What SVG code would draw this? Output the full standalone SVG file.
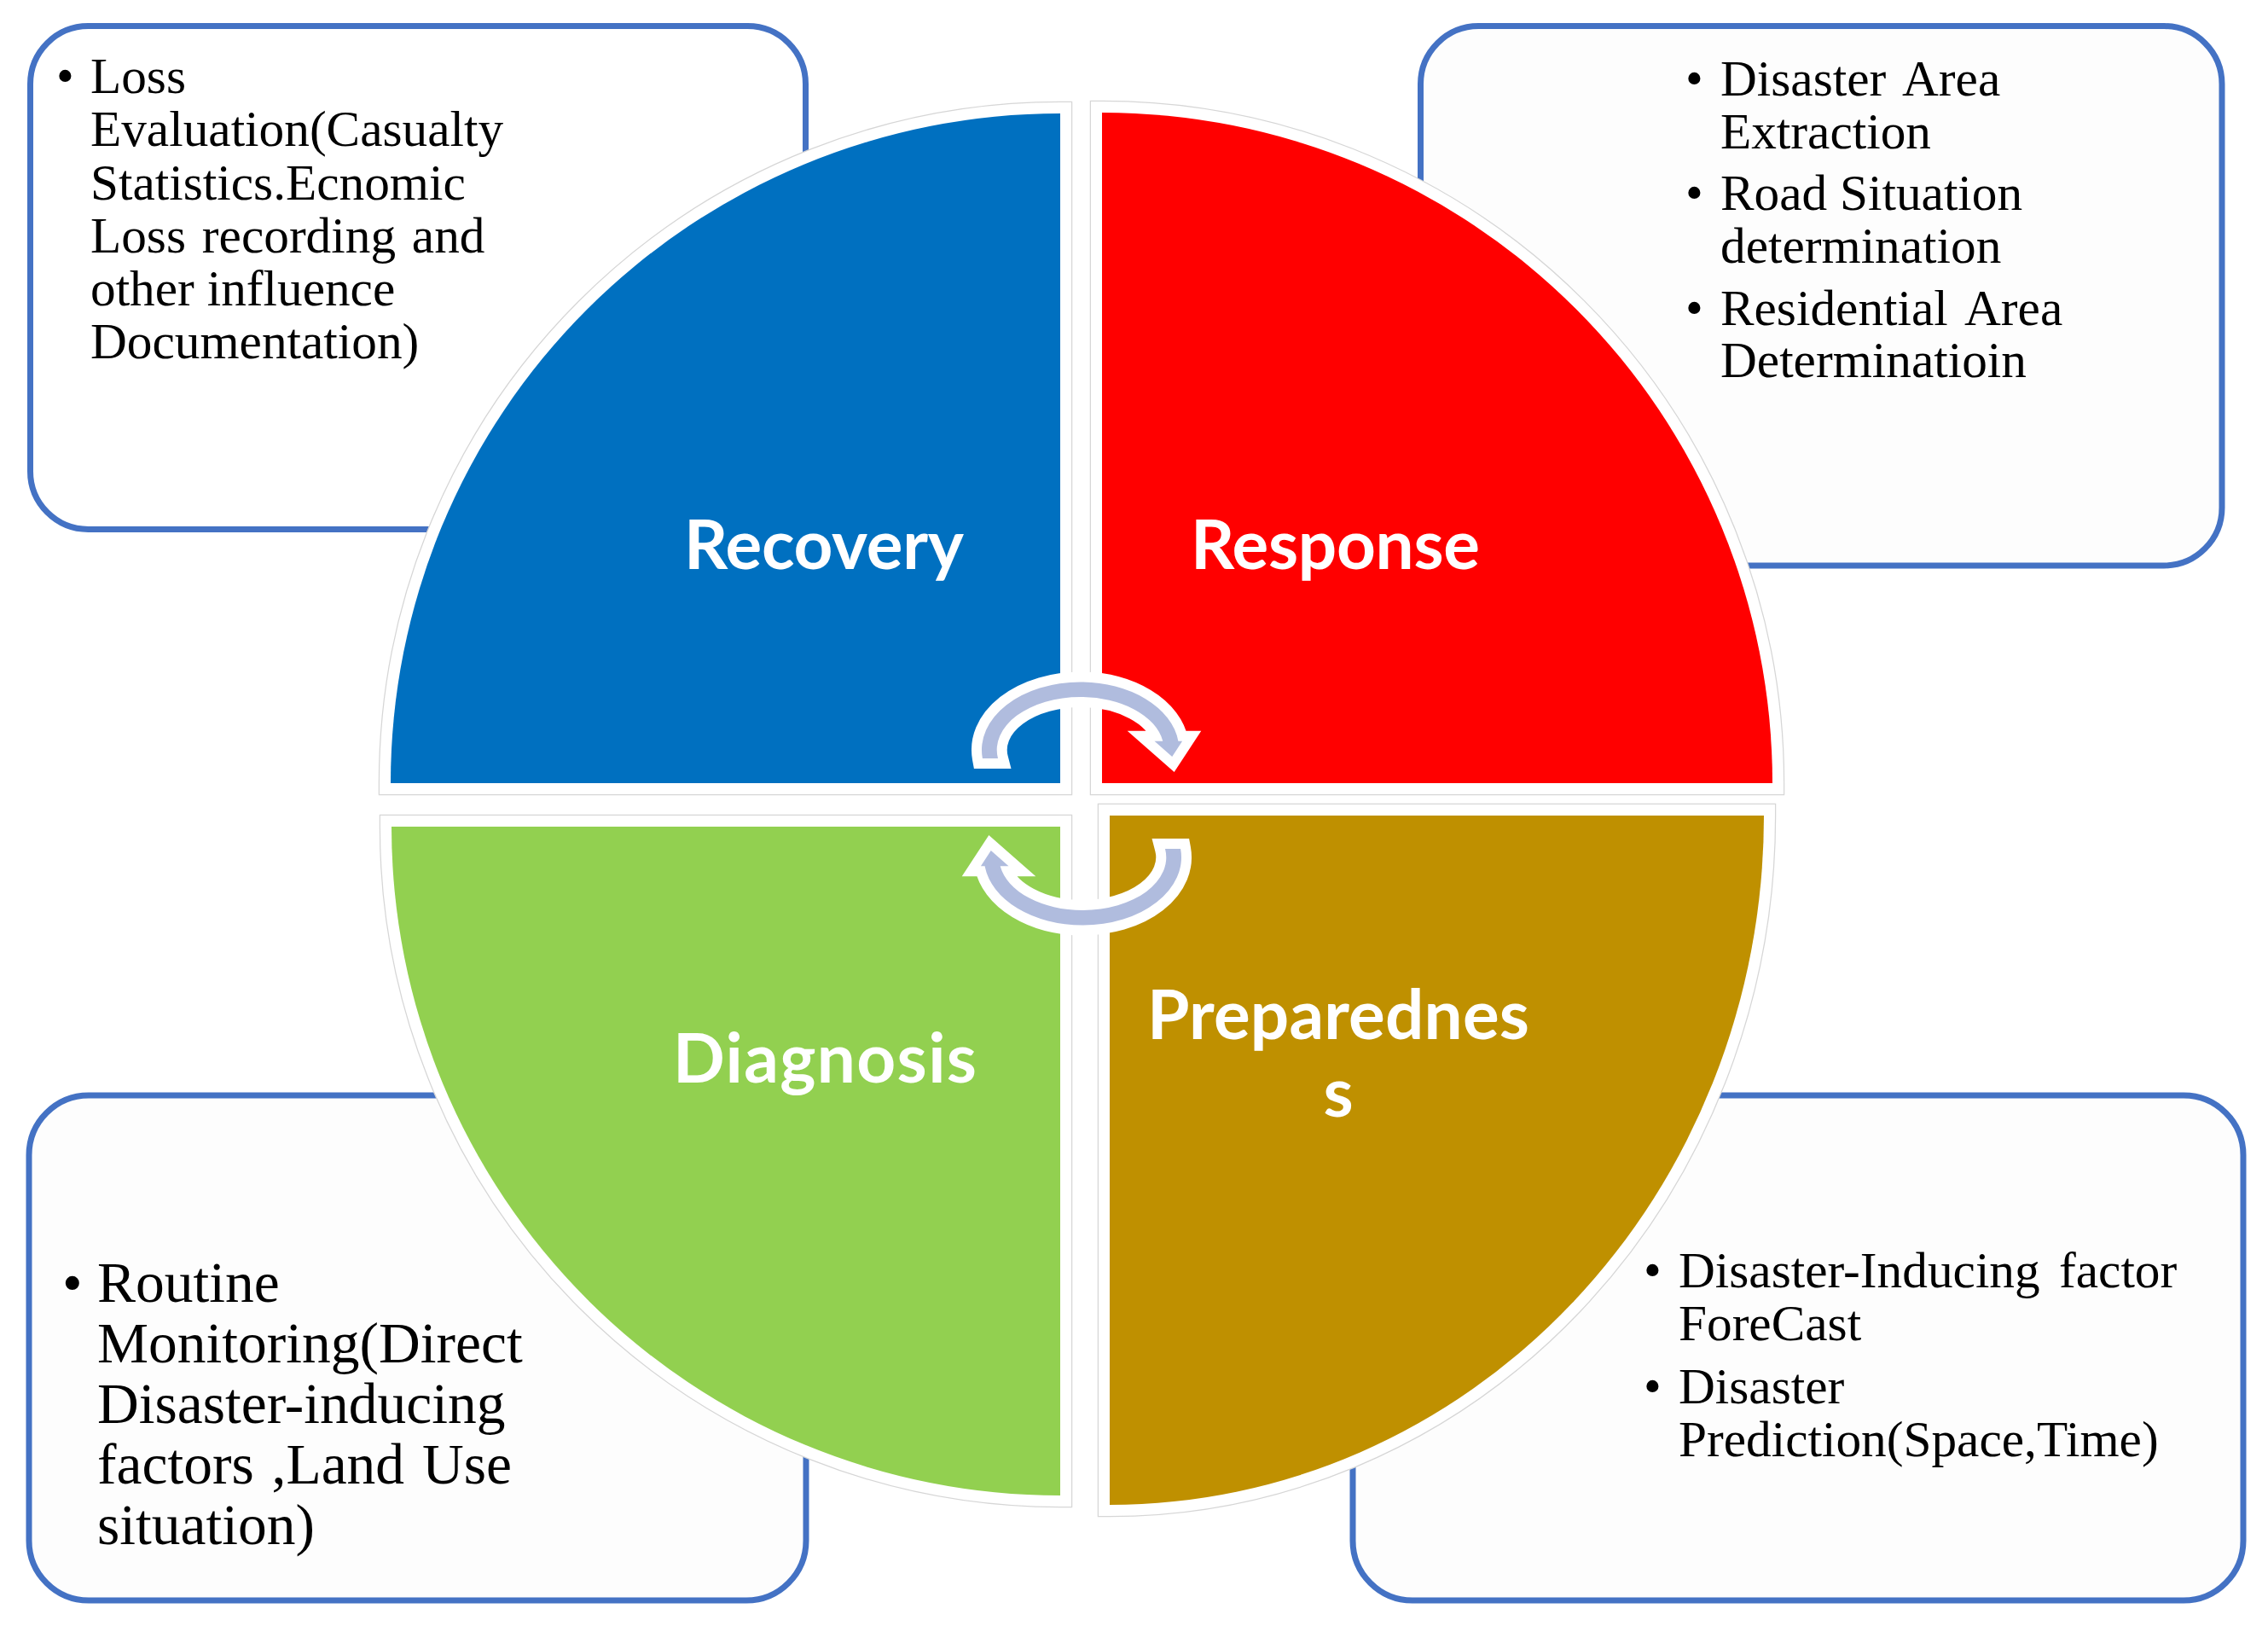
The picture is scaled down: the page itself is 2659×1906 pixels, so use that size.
<svg xmlns="http://www.w3.org/2000/svg" xmlns:xlink="http://www.w3.org/1999/xlink" width="2659" height="1906" viewBox="0 0 2659 1906">
<style>
.box{fill:#FDFDFD;stroke:#4472C4;stroke-width:7}
.qo{fill:#fff;stroke:#D6D6D6;stroke-width:28.5;stroke-linejoin:miter}
.q{stroke:#fff;stroke-width:26;stroke-linejoin:miter;paint-order:stroke}
.lbl{font-family:Lato,"Open Sans",sans-serif;font-weight:700;font-size:80px;fill:#fff;text-anchor:middle}
.txt{font-family:"Liberation Serif","Times New Roman",serif;font-size:59.3px;fill:#000}
.big{font-size:67.5px}
.arrow{fill:#B0BCDE;stroke:#fff;stroke-width:24;stroke-linejoin:miter;stroke-miterlimit:10;paint-order:stroke}
</style>
<defs>
<path id="arrowShape" class="arrow" d="M 1151.9 889 A 115.7 79.5 0 0 1 1266.7 799.5 A 115.7 79.5 0 0 1 1381.4 868.7 L 1386.1 868.7 L 1374.2 886.9 L 1353.5 868.7 L 1363.3 868.7 A 98 62 0 0 0 1266.7 817 A 98 62 0 0 0 1170 889 Z"/>
</defs>
<rect width="2659" height="1906" fill="#fff"/>

<g id="box-recovery">
<rect class="box" x="35.5" y="30.5" width="909" height="590" rx="68" style="fill:#fff"/>
<text class="txt"><tspan x="66" y="109">•</tspan><tspan x="106" y="109">Loss</tspan><tspan x="106" y="171">Evaluation(Casualty</tspan><tspan x="106" y="234">Statistics.Ecnomic</tspan><tspan x="106" y="296" word-spacing="4">Loss recording and</tspan><tspan x="106" y="358">other influence</tspan><tspan x="106" y="420">Documentation)</tspan></text>
</g>
<g id="box-response">
<rect class="box" x="1665.5" y="30.5" width="939.5" height="632.5" rx="68"/>
<text class="txt"><tspan x="1976" y="112">•</tspan><tspan x="2017" y="112">Disaster</tspan><tspan x="2230" y="112">Area</tspan><tspan x="2017" y="173.5">Extraction</tspan><tspan x="1976" y="246">•</tspan><tspan x="2017" y="246">Road Situation</tspan><tspan x="2017" y="308">determination</tspan><tspan x="1976" y="381">•</tspan><tspan x="2017" y="381">Residential</tspan><tspan x="2303" y="381">Area</tspan><tspan x="2017" y="442">Determinatioin</tspan></text>
</g>
<g id="box-diagnosis">
<rect class="box" x="34" y="1284" width="911" height="592" rx="70"/>
<text class="txt big"><tspan x="73" y="1526">•</tspan><tspan x="114" y="1526">Routine</tspan><tspan x="114" y="1597">Monitoring(Direct</tspan><tspan x="114" y="1668">Disaster-inducing</tspan><tspan x="114" y="1739" word-spacing="4">factors ,Land Use</tspan><tspan x="114" y="1810">situation)</tspan></text>
</g>
<g id="box-preparedness">
<rect class="box" x="1586" y="1284" width="1044" height="592" rx="70"/>
<text class="txt"><tspan x="1927" y="1509">•</tspan><tspan x="1968" y="1509">Disaster-Inducing</tspan><tspan x="2414" y="1509">factor</tspan><tspan x="1968" y="1571">ForeCast</tspan><tspan x="1927" y="1645">•</tspan><tspan x="1968" y="1645">Disaster</tspan><tspan x="1968" y="1707">Prediction(Space,Time)</tspan></text>
</g>

<g id="node-recovery">
<path class="qo" d="M 1243 918 L 458 918 A 785 785 0 0 1 1243 133 Z"/>
<path class="q" fill="#0070C0" d="M 1243 918 L 458 918 A 785 785 0 0 1 1243 133 Z"/>
<text class="lbl" x="966" y="667" textLength="328" lengthAdjust="spacing">Recovery</text>
</g>
<g id="node-response">
<path class="qo" d="M 1292 918 L 1292 132 A 786 786 0 0 1 2078 918 Z"/>
<path class="q" fill="#FF0000" d="M 1292 918 L 1292 132 A 786 786 0 0 1 2078 918 Z"/>
<text class="lbl" x="1565.5" y="667" textLength="339" lengthAdjust="spacing">Response</text>
</g>
<g id="node-diagnosis">
<path class="qo" d="M 1243 969 L 1243 1753 A 784 784 0 0 1 459 969 Z"/>
<path class="q" fill="#92D050" d="M 1243 969 L 1243 1753 A 784 784 0 0 1 459 969 Z"/>
<text class="lbl" x="967" y="1269" textLength="356" lengthAdjust="spacing">Diagnosis</text>
</g>
<g id="node-preparedness">
<path class="qo" d="M 1301 956 L 2068 956 A 767 808 0 0 1 1301 1764 Z"/>
<path class="q" fill="#BF9000" d="M 1301 956 L 2068 956 A 767 808 0 0 1 1301 1764 Z"/>
<text class="lbl"><tspan x="1569" y="1218" textLength="448" lengthAdjust="spacing">Preparednes</tspan><tspan x="1569" y="1309">s</tspan></text>
</g>

<g id="connectors">
<use id="arrow-top" xlink:href="#arrowShape" href="#arrowShape"/>
<use id="arrow-bottom" xlink:href="#arrowShape" href="#arrowShape" transform="rotate(180 1268 942)"/>
</g>
</svg>
